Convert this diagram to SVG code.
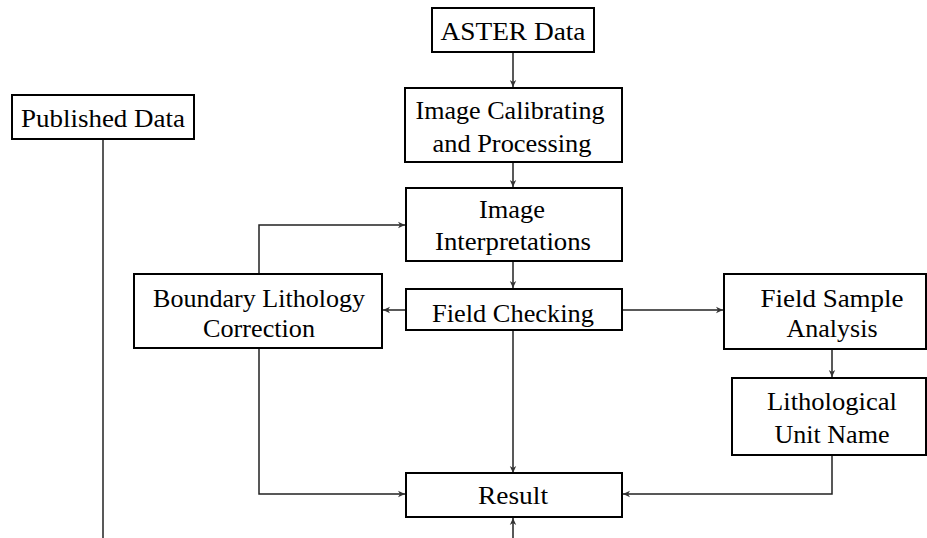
<svg xmlns="http://www.w3.org/2000/svg" width="927" height="538" viewBox="0 0 927 538">
<style>
.box{fill:#fff;stroke:#000;stroke-width:2}
.t{font-family:'Times New Roman',Times,'Liberation Serif','DejaVu Serif',serif;font-size:26px;fill:#000;text-anchor:middle}
.c{fill:none;stroke:#222;stroke-width:1.5}
</style>
<defs>
<marker id="ah" markerUnits="userSpaceOnUse" markerWidth="8" markerHeight="8" viewBox="0 0 8 8" refX="7" refY="4" orient="auto">
<path d="M0,0.8 L7,4 L0,7.2 L2,4 Z" fill="#333"/>
</marker>
</defs>
<rect width="927" height="538" fill="#fff"/>
<g id="connectors">
<line class="c" x1="513" y1="52" x2="513" y2="87" stroke="#555" marker-end="url(#ah)"/>
<line class="c" x1="513" y1="163" x2="513" y2="187" marker-end="url(#ah)"/>
<line class="c" x1="513" y1="261" x2="513" y2="288" marker-end="url(#ah)"/>
<line class="c" x1="406" y1="310" x2="383" y2="310" marker-end="url(#ah)"/>
<line class="c" x1="622" y1="310" x2="723" y2="310" marker-end="url(#ah)"/>
<path class="c" d="M259 273 V225 H405" marker-end="url(#ah)"/>
<line class="c" x1="832" y1="349" x2="832" y2="377" marker-end="url(#ah)"/>
<line class="c" x1="513" y1="331" x2="513" y2="473" marker-end="url(#ah)"/>
<path class="c" d="M259 348 V494 H405" marker-end="url(#ah)"/>
<path class="c" d="M832 455 V494 H623" marker-end="url(#ah)"/>
<line class="c" x1="513" y1="538" x2="513" y2="518" marker-end="url(#ah)"/>
<line class="c" x1="103" y1="139" x2="103" y2="538" stroke="#000" stroke-width="2"/>
</g>
<g id="aster">
<rect class="box" x="432" y="8" width="162" height="44"/>
<text class="t" x="513" y="40" textLength="145" lengthAdjust="spacingAndGlyphs">ASTER Data</text>
</g>
<g id="published">
<rect class="box" x="12" y="95" width="182" height="44"/>
<text class="t" x="103" y="127" textLength="164" lengthAdjust="spacingAndGlyphs">Published Data</text>
</g>
<g id="calibrating">
<rect class="box" x="405" y="88" width="217" height="74"/>
<text class="t" x="510" y="119" textLength="189" lengthAdjust="spacingAndGlyphs">Image Calibrating</text>
<text class="t" x="512" y="152" textLength="159" lengthAdjust="spacingAndGlyphs">and Processing</text>
</g>
<g id="interpretations">
<rect class="box" x="406" y="188" width="216" height="73"/>
<text class="t" x="512" y="218" textLength="66" lengthAdjust="spacingAndGlyphs">Image</text>
<text class="t" x="513" y="250" textLength="156" lengthAdjust="spacingAndGlyphs">Interpretations</text>
</g>
<g id="fieldchecking">
<rect class="box" x="406" y="289" width="216" height="41"/>
<text class="t" x="513" y="322" textLength="162" lengthAdjust="spacingAndGlyphs">Field Checking</text>
</g>
<g id="boundary">
<rect class="box" x="134" y="274" width="248" height="74"/>
<text class="t" x="259" y="307" textLength="212" lengthAdjust="spacingAndGlyphs">Boundary Lithology</text>
<text class="t" x="259" y="337" textLength="112" lengthAdjust="spacingAndGlyphs">Correction</text>
</g>
<g id="fieldsample">
<rect class="box" x="724" y="274" width="202" height="75"/>
<text class="t" x="832" y="307" textLength="143" lengthAdjust="spacingAndGlyphs">Field Sample</text>
<text class="t" x="832" y="337" textLength="91" lengthAdjust="spacingAndGlyphs">Analysis</text>
</g>
<g id="lithological">
<rect class="box" x="732" y="378" width="194" height="77"/>
<text class="t" x="832" y="410" textLength="130" lengthAdjust="spacingAndGlyphs">Lithological</text>
<text class="t" x="832" y="443" textLength="115" lengthAdjust="spacingAndGlyphs">Unit Name</text>
</g>
<g id="result">
<rect class="box" x="406" y="473" width="216" height="44"/>
<text class="t" x="513" y="504" textLength="70" lengthAdjust="spacingAndGlyphs">Result</text>
</g>
</svg>
